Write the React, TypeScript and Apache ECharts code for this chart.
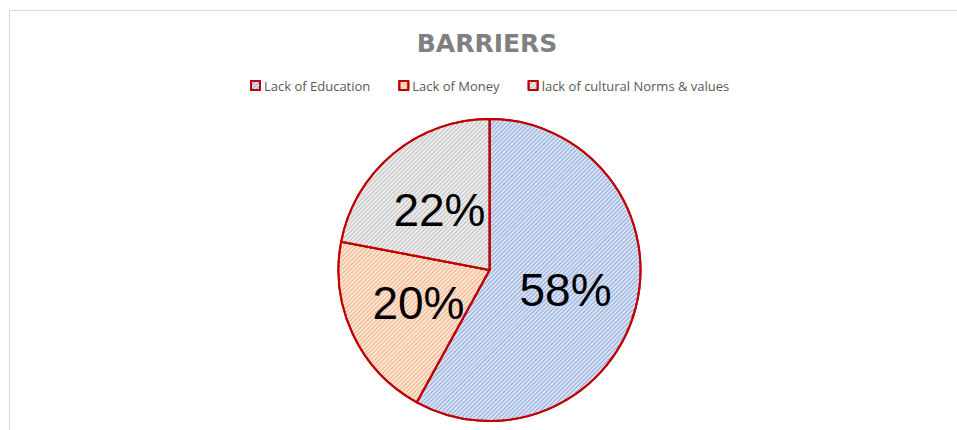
import React, { useEffect, useRef } from "react";
import * as echarts from "echarts";

const titleText = "BARRIERS";
const categories = ["Lack of Education", "Lack of Money", "lack of cultural Norms & values"];
const values = [58, 20, 22];
const fillColors = ["#dae3f3", "#fbe5d6", "#ededed"];
const hatchColors = ["#8faadc", "#f4b183", "#bfbfbf"];

export default function App() {
  const ref = useRef<HTMLDivElement>(null);
  useEffect(() => {
    if (!ref.current) return;
    const chart = echarts.init(ref.current, undefined, { renderer: "svg" });
    const data = categories.map((name, i) => ({
      name,
      value: values[i],
      itemStyle: {
        color: fillColors[i],
        borderColor: "#c00000",
        borderWidth: 2,
        decal: {
          symbol: "rect",
          symbolSize: 1,
          color: hatchColors[i],
          dashArrayX: [1, 0],
          dashArrayY: [1, 2],
          rotation: -Math.PI / 4,
        },
      },
    }));
    chart.setOption({
      animation: false,
      backgroundColor: "#ffffff",
      title: {
        text: titleText,
        left: 482,
        textAlign: "center",
        top: 26,
        textStyle: {
          fontFamily: "DejaVu Sans",
          fontWeight: "bold",
          fontSize: 25,
          color: "#808080",
        },
      },
      legend: {
        left: 245,
        top: 74,
        itemWidth: 9,
        itemHeight: 9,
        itemGap: 28,
        icon: "rect",
        textStyle: { fontFamily: "Open Sans", fontSize: 13, color: "#595959", padding: [0, 0, 0, -1] },
        data: categories,
      },
      graphic: [
        {
          type: "polyline",
          shape: { points: [[9.5, 430], [9.5, 10.5], [957, 10.5]] },
          style: { stroke: "#d9d9d9", lineWidth: 1, fill: "none" },
          silent: true,
        },
      ],
      series: [
        {
          type: "pie",
          center: [489.5, 270],
          radius: 151,
          startAngle: 90,
          clockwise: true,
          label: {
            show: true,
            position: "inside",
            formatter: (p: any) => p.value + "%",
            fontFamily: "Liberation Sans",
            fontSize: 46,
            color: "#000000",
          },
          labelLine: { show: false },
          emphasis: { disabled: true },
          data,
        },
      ],
    });
    return () => chart.dispose();
  }, []);
  return <div ref={ref} style={{ position: "absolute", left: 0, top: 0, width: 957, height: 430 }} />;
}
